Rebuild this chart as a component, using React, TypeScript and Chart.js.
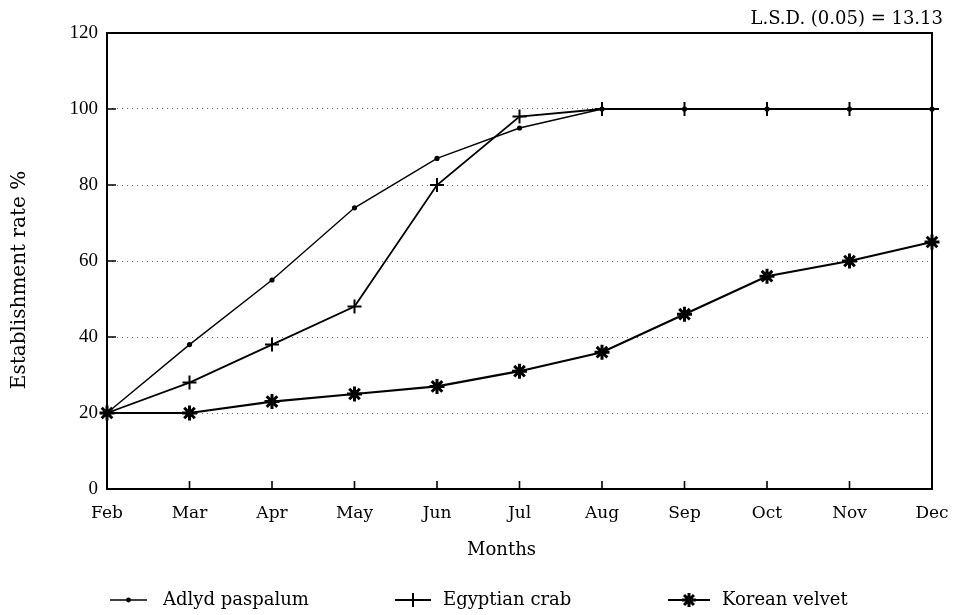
import React, { useEffect, useRef } from "react";
import { Chart, registerables } from "chart.js";

Chart.register(...registerables);

const months = ["Feb", "Mar", "Apr", "May", "Jun", "Jul", "Aug", "Sep", "Oct", "Nov", "Dec"];
const adlydPaspalum = [20, 38, 55, 74, 87, 95, 100, 100, 100, 100, 100];
const egyptianCrab = [20, 28, 38, 48, 80, 98, 100, 100, 100, 100, 100];
const koreanVelvet = [20, 20, 23, 25, 27, 31, 36, 46, 56, 60, 65];
const yTickValues = [0, 20, 40, 60, 80, 100, 120];
const seriesNames = ["Adlyd paspalum", "Egyptian crab", "Korean velvet"];
const lsdNote = "L.S.D. (0.05) = 13.13";
const xTitle = "Months";
const yTitle = "Establishment rate %";

const TEXT_FONT = "'DejaVu Serif', serif";
const DIGIT_FONT = "'Liberation Serif', serif";

function drawMarker(ctx: CanvasRenderingContext2D, style: string, x: number, y: number, r: number) {
  ctx.save();
  ctx.strokeStyle = "#000";
  ctx.fillStyle = "#000";
  if (style === "circle") {
    ctx.beginPath();
    ctx.arc(x, y, r, 0, Math.PI * 2);
    ctx.fill();
  } else if (style === "cross") {
    ctx.lineWidth = 2;
    ctx.beginPath();
    ctx.moveTo(x - r, y);
    ctx.lineTo(x + r, y);
    ctx.moveTo(x, y - r);
    ctx.lineTo(x, y + r);
    ctx.stroke();
  } else {
    ctx.lineWidth = 3;
    ctx.beginPath();
    for (let i = 0; i < 4; i++) {
      const a = (i * Math.PI) / 4;
      ctx.moveTo(x - r * Math.cos(a), y - r * Math.sin(a));
      ctx.lineTo(x + r * Math.cos(a), y + r * Math.sin(a));
    }
    ctx.stroke();
  }
  ctx.restore();
}

const decorPlugin = {
  id: "decor",
  beforeDatasetsDraw(chart: any) {
    const { ctx, chartArea } = chart;
    const { left, right, top, bottom } = chartArea;
    const xs = chart.scales.x;
    const ys = chart.scales.y;
    ctx.save();
    ctx.strokeStyle = "#000";
    ctx.lineWidth = 2;
    ctx.setLineDash([]);
    ctx.strokeRect(left, top, right - left, bottom - top);
    ctx.lineWidth = 1.6;
    ctx.beginPath();
    for (let i = 1; i < months.length - 1; i++) {
      const px = xs.getPixelForValue(i);
      ctx.moveTo(px, bottom);
      ctx.lineTo(px, bottom - 8);
    }
    for (const v of yTickValues) {
      if (v === 0 || v === 120) continue;
      const py = ys.getPixelForValue(v);
      ctx.moveTo(left, py);
      ctx.lineTo(left + 9, py);
    }
    ctx.stroke();
    ctx.restore();
  },
  afterDraw(chart: any) {
    const { ctx, chartArea } = chart;
    const { left, right, top, bottom } = chartArea;
    ctx.save();
    ctx.fillStyle = "#000";
    ctx.font = `18px ${TEXT_FONT}`;
    ctx.textAlign = "right";
    ctx.textBaseline = "middle";
    ctx.fillText(lsdNote, right + 11, top - 14);
    ctx.font = `18px ${TEXT_FONT}`;
    ctx.textAlign = "center";
    ctx.fillText(xTitle, (left + right) / 2 - 18, bottom + 61);
    ctx.save();
    ctx.translate(20, (top + bottom) / 2 + 19);
    ctx.rotate(-Math.PI / 2);
    ctx.font = `20px ${TEXT_FONT}`;
    ctx.textAlign = "center";
    ctx.textBaseline = "middle";
    ctx.fillText(yTitle, 0, 0);
    ctx.restore();
    const legendY = 600;
    const items = [
      { x: 110, len: 37, style: "circle", r: 2.4, lw: 1.4 },
      { x: 395, len: 36, style: "cross", r: 7, lw: 1.8 },
      { x: 668, len: 42, style: "star", r: 7, lw: 2.2 },
    ];
    ctx.font = `18px ${TEXT_FONT}`;
    ctx.textAlign = "left";
    ctx.textBaseline = "middle";
    items.forEach((it, i) => {
      ctx.strokeStyle = "#000";
      ctx.lineWidth = it.lw;
      ctx.beginPath();
      ctx.moveTo(it.x, legendY);
      ctx.lineTo(it.x + it.len, legendY);
      ctx.stroke();
      drawMarker(ctx, it.style, it.x + it.len / 2, legendY, it.r);
      ctx.fillStyle = "#000";
      ctx.fillText(seriesNames[i], it.x + it.len + (i === 0 ? 16 : 12), legendY);
    });
    ctx.restore();
  },
};

export default function App() {
  const canvasRef = useRef<HTMLCanvasElement | null>(null);

  useEffect(() => {
    if (!canvasRef.current) return;
    const chart = new Chart(canvasRef.current, {
      type: "line",
      data: {
        labels: months,
        datasets: [
          {
            label: seriesNames[0],
            data: adlydPaspalum,
            borderColor: "#000",
            backgroundColor: "#000",
            borderWidth: 1.4,
            pointStyle: "circle",
            pointRadius: 2.6,
            pointBorderWidth: 0,
            tension: 0,
            clip: false,
          },
          {
            label: seriesNames[1],
            data: egyptianCrab,
            borderColor: "#000",
            backgroundColor: "#000",
            borderWidth: 1.8,
            pointStyle: "cross",
            pointRadius: 7,
            pointBorderWidth: 2,
            tension: 0,
            clip: false,
          },
          {
            label: seriesNames[2],
            data: koreanVelvet,
            borderColor: "#000",
            backgroundColor: "#000",
            borderWidth: 2.2,
            pointStyle: "star",
            pointRadius: 7.5,
            pointBorderWidth: 3,
            tension: 0,
            clip: false,
          },
        ],
      },
      options: {
        animation: false,
        responsive: true,
        maintainAspectRatio: false,
        layout: { autoPadding: false, padding: { top: 33, right: 28, left: 0, bottom: 0 } },
        plugins: {
          legend: { display: false },
          tooltip: { enabled: false },
          title: { display: false },
        },
        scales: {
          x: {
            type: "category",
            offset: false,
            grid: { display: false, drawTicks: false },
            border: { display: false },
            ticks: {
              color: "#000",
              font: { family: TEXT_FONT, size: 17 },
              padding: 14,
              maxRotation: 0,
              autoSkip: false,
            },
            afterFit: (s: any) => {
              s.height = 126;
              s.paddingLeft = 0;
              s.paddingRight = 0;
            },
          },
          y: {
            min: 0,
            max: 120,
            afterBuildTicks: (s: any) => {
              s.ticks = yTickValues.map((v) => ({ value: v }));
            },
            grid: {
              drawTicks: false,
              lineWidth: 1,
              color: (c: any) =>
                c.tick && (c.tick.value === 0 || c.tick.value === 120) ? "rgba(0,0,0,0)" : "#666",
            },
            border: { display: false, dash: [1, 4] },
            ticks: {
              color: "#000",
              font: { family: DIGIT_FONT, size: 19 },
              padding: 9,
            },
            afterFit: (s: any) => {
              s.width = 107;
              s.paddingTop = 0;
              s.paddingBottom = 0;
            },
          },
        },
      },
      plugins: [decorPlugin],
    });
    return () => chart.destroy();
  }, []);

  return (
    <div style={{ position: "fixed", left: 0, top: 0, width: 960, height: 615, background: "#fff" }}>
      <canvas ref={canvasRef} />
    </div>
  );
}
